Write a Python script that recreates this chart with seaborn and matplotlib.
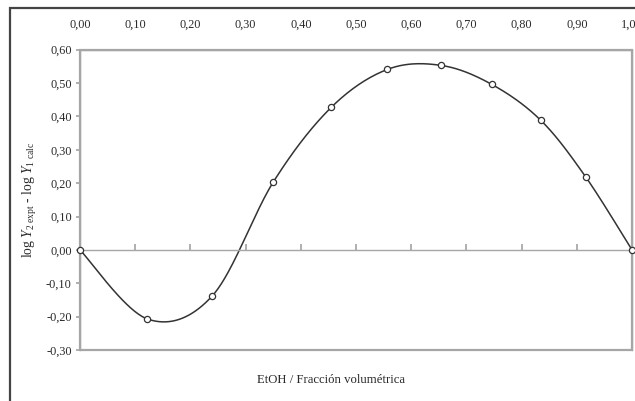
import numpy as np
import pandas as pd
import matplotlib
matplotlib.use("Agg")
import matplotlib.pyplot as plt
import matplotlib.patches as patches
from matplotlib.ticker import FuncFormatter
import seaborn as sns

# values
fraccion = [0.0, 0.122, 0.239, 0.350, 0.455, 0.557, 0.654, 0.746, 0.835, 0.916, 1.0]
diferencia = [0.0, -0.207, -0.139, 0.203, 0.427, 0.541, 0.553, 0.496, 0.388, 0.219, 0.0]
x_ticks = [0.0, 0.1, 0.2, 0.3, 0.4, 0.5, 0.6, 0.7, 0.8, 0.9, 1.0]
y_ticks = [-0.3, -0.2, -0.1, 0.0, 0.1, 0.2, 0.3, 0.4, 0.5, 0.6]

sns.set_theme(style="white")
plt.rcParams['font.family'] = ['Liberation Serif', 'DejaVu Serif']
plt.rcParams['mathtext.fontset'] = 'custom'
plt.rcParams['mathtext.rm'] = 'Liberation Serif'
plt.rcParams['mathtext.it'] = 'Liberation Serif:italic'


def smooth(xv, yv, n=40):
    # Excel-like smoothed line (Catmull-Rom as cubic Bezier)
    p = np.column_stack([xv, yv])
    pts = np.vstack([p[0], p, p[-1]])
    t = np.linspace(0, 1, n)[:, None]
    out = []
    for i in range(1, len(pts) - 2):
        p0, p1, p2, p3 = pts[i - 1], pts[i], pts[i + 1], pts[i + 2]
        c1 = p1 + (p2 - p0) / 6
        c2 = p2 - (p3 - p1) / 6
        seg = ((1 - t) ** 3) * p1 + 3 * ((1 - t) ** 2) * t * c1 + 3 * (1 - t) * t ** 2 * c2 + t ** 3 * p2
        out.append(seg if i == 1 else seg[1:])
    out = np.vstack(out)
    return out[:, 0], out[:, 1]


sx, sy = smooth(fraccion, diferencia)
curve = pd.DataFrame({'x': sx, 'y': sy})
pts = pd.DataFrame({'x': fraccion, 'y': diferencia})

fig = plt.figure(figsize=(6.35, 4.01), dpi=100)
ax = fig.add_axes([80 / 635, 1 - 350 / 401, 552 / 635, 300.3 / 401])

grey = '#a6a6a6'
txt = '#2a2a2a'
sns.lineplot(data=curve, x='x', y='y', ax=ax, color='#333333', lw=1.1, sort=False)
sns.scatterplot(data=pts, x='x', y='y', ax=ax, marker='o', s=20, facecolor='white',
                edgecolor='#333333', linewidth=0.9, zorder=5, clip_on=False)

ax.set_xlim(0, 1)
ax.set_ylim(-0.3, 0.6)
ax.set_xticks(x_ticks)
ax.set_yticks(y_ticks)
fmt = FuncFormatter(lambda v, _: f"{v:.2f}".replace('.', ',').replace('-0,00', '0,00'))
ax.xaxis.set_major_formatter(fmt)
ax.yaxis.set_major_formatter(fmt)

# x axis crosses at zero, labels on top
ax.spines['bottom'].set_position(('data', 0))
for s in ax.spines.values():
    s.set_color(grey)
    s.set_linewidth(1.0)
ax.tick_params(axis='x', bottom=True, top=False, labelbottom=False, labeltop=True,
               direction='in', length=4, color=grey, labelsize=8.8, pad=14, labelcolor=txt)
ax.tick_params(axis='y', left=True, direction='out', length=3, color=grey,
               labelsize=8.8, pad=3, labelcolor=txt)
ax.add_patch(patches.Rectangle((0, 0), 1, 1, transform=ax.transAxes, fill=False,
                               ec=grey, lw=1.6, clip_on=False, zorder=0))

ax.set_xlabel('')
ax.set_ylabel(r'log $\mathit{Y}_{2\ \mathrm{expt}}$ - log $\mathit{Y}_{1\ \mathrm{calc}}$',
              fontsize=9.8, color=txt, labelpad=5)
fig.text(331 / 635, 1 - 380 / 401, 'EtOH / Fracción volumétrica', ha='center', va='center',
         fontsize=9.2, color=txt)

# outer frame of the chart, cut at right and bottom
fig.patches.append(patches.Rectangle((10 / 635, -0.1), 1.2, 1.1 - 8 / 401,
                                     transform=fig.transFigure, fill=False,
                                     ec='#444444', lw=1.6))

plt.savefig('out.png', dpi=100)
